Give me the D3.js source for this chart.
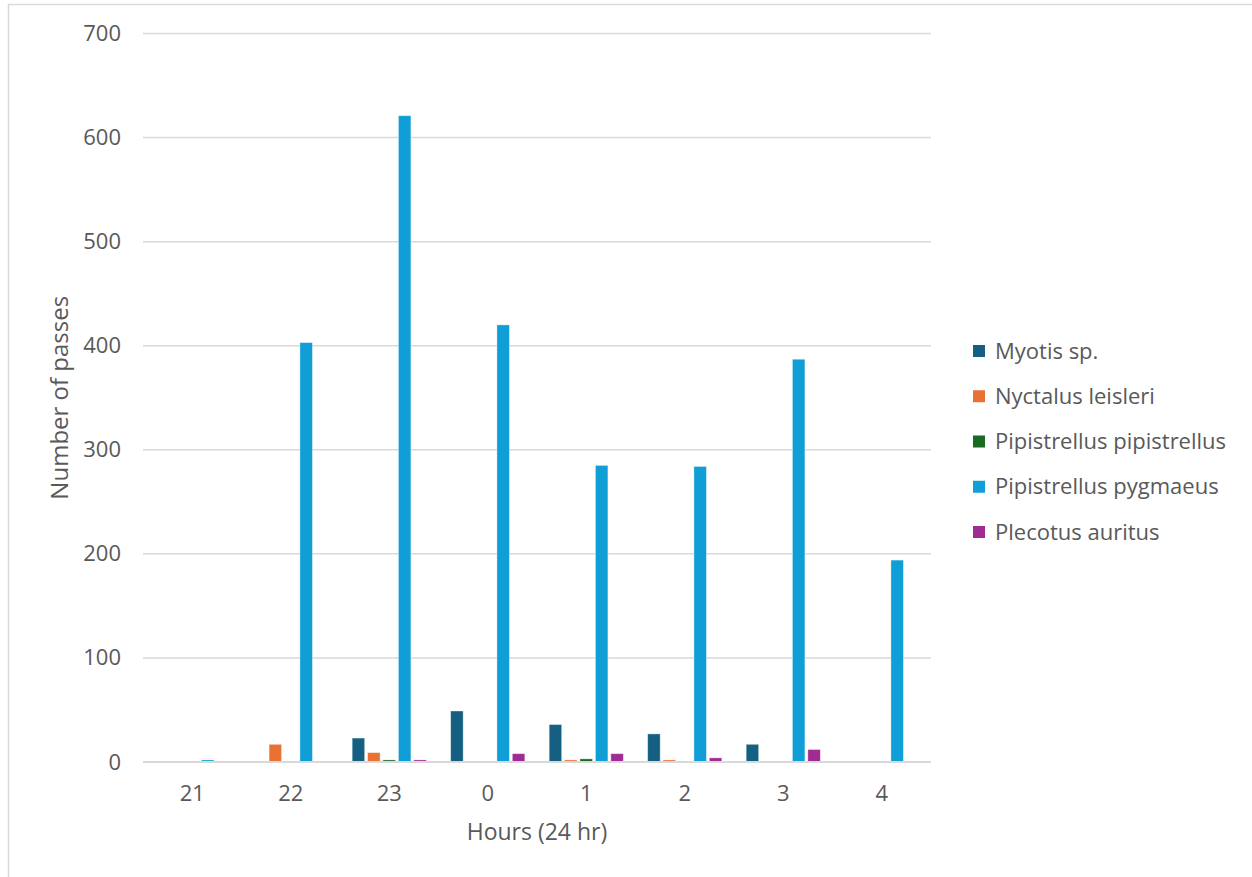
<!DOCTYPE html>
<html>
<head>
<meta charset="utf-8">
<script src="https://cdn.jsdelivr.net/npm/d3@7"></script>
<style>
  html, body { margin: 0; padding: 0; background: #fff; }
  svg { display: block; font-family: "Open Sans", sans-serif; }
</style>
</head>
<body>
<svg id="chart" width="1252" height="877"></svg>
<script>
const hours = ["21", "22", "23", "0", "1", "2", "3", "4"];
const seriesNames = ["Myotis sp.", "Nyctalus leisleri", "Pipistrellus pipistrellus", "Pipistrellus pygmaeus", "Plecotus auritus"];
const seriesColors = ["#156082", "#E97132", "#196B24", "#0F9ED5", "#A02B93"];
const myotis   = [0, 0, 23, 49, 36, 27, 17, 0];
const nyctalus = [0, 17, 9, 0, 2, 2, 0, 0];
const pipPip   = [0, 0, 2, 0, 3, 0, 0, 0];
const pygmaeus = [2, 403, 621, 420, 285, 284, 387, 194];
const plecotus = [0, 0, 2, 8, 8, 4, 12, 0];
const yTicks = [0, 100, 200, 300, 400, 500, 600, 700];

const seriesValues = [myotis, nyctalus, pipPip, pygmaeus, plecotus];

const svg = d3.select("#chart");
const pLeft = 143, pRight = 931, pTop = 33.5, pBottom = 762;

// chart border (top & left visible)
svg.append("path")
  .attr("d", `M8.5,880 V4.5 H1260`)
  .attr("fill", "none").attr("stroke", "#d9d9d9").attr("stroke-width", 1.5);

const y = d3.scaleLinear().domain([0, 700]).range([pBottom, pTop]);
const x0 = d3.scaleBand().domain(hours).range([pLeft, pRight]).paddingInner(0).paddingOuter(0);
const x1 = d3.scaleBand().domain(seriesNames).range([0, x0.bandwidth()])
  .paddingInner(0.19).paddingOuter(0.79);

// gridlines
svg.append("g").selectAll("line").data(yTicks.filter(d => d > 0)).join("line")
  .attr("x1", pLeft).attr("x2", pRight)
  .attr("y1", d => y(d)).attr("y2", d => y(d))
  .attr("stroke", "#d9d9d9").attr("stroke-width", 1.5);

// bars
const groups = svg.append("g").selectAll("g").data(hours).join("g")
  .attr("transform", d => `translate(${x0(d)},0)`);
groups.selectAll("rect")
  .data((h, i) => seriesNames.map((s, k) => ({ s, k, v: seriesValues[k][i] })).filter(d => d.v > 0))
  .join("rect")
  .attr("x", d => x1(d.s))
  .attr("width", x1.bandwidth())
  .attr("y", d => y(d.v))
  .attr("height", d => y(0) - y(d.v))
  .attr("fill", d => seriesColors[d.k])
  .attr("stroke", "#ffffff").attr("stroke-opacity", 0.45).attr("stroke-width", 0.8);

// baseline
svg.append("line")
  .attr("x1", pLeft).attr("x2", pRight).attr("y1", y(0)).attr("y2", y(0))
  .attr("stroke", "#d9d9d9").attr("stroke-width", 2);

// y-axis labels
const yAxis = d3.axisLeft(y).tickValues(yTicks).tickSize(0).tickPadding(0).tickFormat(d3.format("d"));
const yg = svg.append("g").attr("transform", `translate(${pLeft - 22},0)`).call(yAxis);
yg.select(".domain").remove();
yg.selectAll("text").attr("fill", "#595959").style("font-size", "22px").style("font-family", "'Open Sans', sans-serif");

// x-axis labels
const xAxis = d3.axisBottom(x0).tickSize(0).tickPadding(0);
const xg = svg.append("g").attr("transform", `translate(0,${pBottom + 23})`).call(xAxis);
xg.select(".domain").remove();
xg.selectAll("text").attr("fill", "#595959").style("font-size", "22px").style("font-family", "'Open Sans', sans-serif");

// axis titles
svg.append("text")
  .attr("x", (pLeft + pRight) / 2).attr("y", 840)
  .attr("text-anchor", "middle").attr("fill", "#595959")
  .style("font-size", "23px").text("Hours (24 hr)");
svg.append("text")
  .attr("transform", `translate(68,${(pTop + pBottom) / 2}) rotate(-90)`)
  .attr("text-anchor", "middle").attr("fill", "#595959")
  .style("font-size", "24px").text("Number of passes");

// legend
const lg = svg.append("g").selectAll("g").data(seriesNames).join("g")
  .attr("transform", (d, i) => `translate(973,${351 + i * 45.25})`);
lg.append("rect").attr("x", 0).attr("y", -6).attr("width", 12).attr("height", 12)
  .attr("fill", (d, i) => seriesColors[i]);
lg.append("text").attr("x", 22).attr("y", 0).attr("dy", "0.35em")
  .attr("fill", "#595959").style("font-size", "22px").text(d => d);
</script>
</body>
</html>
